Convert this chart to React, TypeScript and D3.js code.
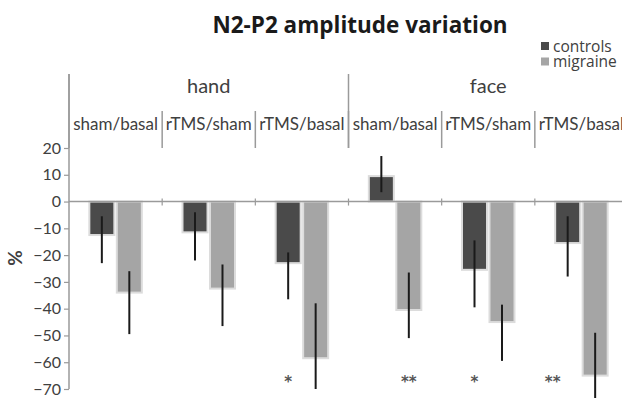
import { useEffect, useRef } from 'react'
import * as d3 from 'd3'

const W = 622
const H = 398

const groups = ['hand', 'face']
const categories = ['sham/basal', 'rTMS/sham', 'rTMS/basal', 'sham/basal', 'rTMS/sham', 'rTMS/basal']
const series = ['controls', 'migraine']

// % change
const controls = [-12.5, -11.5, -23, 9.5, -25.5, -15.5]
const migraine = [-34, -32.5, -58.5, -40.5, -45, -65]
// error bar ends (upper, lower)
const controlsErrHi = [-5.5, -4, -19, 17, -14.5, -5.5]
const controlsErrLo = [-23, -22, -36.5, 3.5, -39.5, -28]
const migraineErrHi = [-26, -23.5, -38, -26.5, -38.5, -49]
const migraineErrLo = [-49.5, -46.5, -70, -51, -59.5, -80]

const yTicks = [20, 10, 0, -10, -20, -30, -40, -50, -60, -70]

// significance marks: category index, series the mark sits under, label
const sigCat = [2, 3, 4, 5]
const sigSeries = ['controls', 'migraine', 'controls', 'controls']
const sigText = ['*', '**', '*', '**']

const COLORS: Record<string, string> = { controls: '#4a4a4a', migraine: '#a5a5a5' }
const FONT = 'Lato, "Open Sans", sans-serif'
const TEXT = '#404040'
const LINE = '#9a9a9a'

export default function App() {
  const ref = useRef<SVGSVGElement>(null)

  useEffect(() => {
    if (!ref.current) return
    const svg = d3.select(ref.current)
    svg.selectAll('*').remove()

    const left = 69
    const x = d3.scaleBand<number>().domain(d3.range(categories.length)).range([left, 628])
    const xs = d3.scaleBand<string>().domain(series).range([0, x.bandwidth()]).paddingInner(0.09).paddingOuter(0.74)
    const y = d3.scaleLinear().domain([-70, 20]).range([389, 148])
    const gx = d3.scaleBand<number>().domain(d3.range(groups.length)).range([left, 628])

    const values: Record<string, number[]> = { controls, migraine }
    const errHi: Record<string, number[]> = { controls: controlsErrHi, migraine: migraineErrHi }
    const errLo: Record<string, number[]> = { controls: controlsErrLo, migraine: migraineErrLo }

    // title
    svg.append('text')
      .attr('x', 360).attr('y', 33)
      .attr('text-anchor', 'middle')
      .attr('font-family', '"Open Sans", sans-serif').attr('font-weight', 700).attr('font-size', 22.5)
      .attr('fill', '#1a1a1a')
      .text('N2-P2 amplitude variation')

    // legend
    const lg = svg.append('g').attr('transform', 'translate(541,42)')
    series.forEach((s, i) => {
      lg.append('rect').attr('x', 0).attr('y', i * 15.5).attr('width', 8).attr('height', 8).attr('fill', COLORS[s])
      lg.append('text').attr('x', 12).attr('y', i * 15.5 + 9.5)
        .attr('font-family', '"Open Sans", sans-serif').attr('font-size', 15.5).attr('fill', TEXT).text(s)
    })

    // y axis
    const yAxis = svg.append('g').attr('transform', `translate(${left},0)`)
      .call(d3.axisLeft(y).tickValues(yTicks).tickSize(5).tickPadding(3).tickFormat(d3.format('d')))
    yAxis.select('.domain').remove()
    yAxis.selectAll('line').attr('stroke', LINE).attr('stroke-width', 1.2)
    yAxis.selectAll('text').attr('font-family', FONT).attr('font-size', 16).attr('fill', TEXT)
    svg.append('line').attr('x1', left).attr('x2', left).attr('y1', 74).attr('y2', y(-70))
      .attr('stroke', LINE).attr('stroke-width', 1.5)

    svg.append('text')
      .attr('transform', `translate(22,258) rotate(-90)`)
      .attr('text-anchor', 'middle')
      .attr('font-family', FONT).attr('font-weight', 700).attr('font-size', 19)
      .attr('fill', TEXT)
      .text('%')

    // header: group labels, category labels, separators
    groups.forEach((g, i) => {
      svg.append('text')
        .attr('x', (gx(i) ?? 0) + gx.bandwidth() / 2).attr('y', 93)
        .attr('text-anchor', 'middle')
        .attr('font-family', FONT).attr('font-size', 20).attr('fill', TEXT)
        .text(g)
      svg.append('line')
        .attr('x1', gx(i) ?? 0).attr('x2', gx(i) ?? 0).attr('y1', 74).attr('y2', 148)
        .attr('stroke', LINE).attr('stroke-width', 1.5)
    })
    categories.forEach((c, i) => {
      const cx = (x(i) ?? 0) + x.bandwidth() / 2
      svg.append('text')
        .attr('x', cx).attr('y', 130)
        .attr('text-anchor', 'middle')
        .attr('font-family', FONT).attr('font-size', 17).attr('fill', TEXT)
        .text(c)
      if (i > 0) {
        svg.append('line')
          .attr('x1', x(i) ?? 0).attr('x2', x(i) ?? 0).attr('y1', 111).attr('y2', 148)
          .attr('stroke', LINE).attr('stroke-width', 1.5)
        svg.append('line')
          .attr('x1', x(i) ?? 0).attr('x2', x(i) ?? 0).attr('y1', y(0) - 3).attr('y2', y(0) + 4)
          .attr('stroke', LINE).attr('stroke-width', 1.2)
      }
    })

    // bars
    categories.forEach((_, i) => {
      series.forEach(s => {
        const v = values[s][i]
        const bx = (x(i) ?? 0) + (xs(s) ?? 0)
        svg.append('rect')
          .attr('x', bx).attr('width', xs.bandwidth())
          .attr('y', Math.min(y(v), y(0))).attr('height', Math.abs(y(v) - y(0)))
          .attr('fill', COLORS[s])
          .attr('stroke', '#dcdcdc').attr('stroke-width', 2)
      })
    })

    // zero line on top of the bar outlines
    svg.append('line').attr('x1', left).attr('x2', W).attr('y1', y(0)).attr('y2', y(0))
      .attr('stroke', LINE).attr('stroke-width', 1.5)

    // error bars
    categories.forEach((_, i) => {
      series.forEach(s => {
        const cx = (x(i) ?? 0) + (xs(s) ?? 0) + xs.bandwidth() / 2
        svg.append('line')
          .attr('x1', cx).attr('x2', cx)
          .attr('y1', y(errHi[s][i])).attr('y2', y(errLo[s][i]))
          .attr('stroke', '#1a1a1a').attr('stroke-width', 2)
      })
    })

    // significance marks
    sigCat.forEach((c, k) => {
      const s = sigSeries[k]
      const dx = k === 3 ? -15 : 0
      svg.append('text')
        .attr('x', (x(c) ?? 0) + (xs(s) ?? 0) + xs.bandwidth() / 2 + dx).attr('y', 387)
        .attr('text-anchor', 'middle')
        .attr('font-family', '"DejaVu Sans", sans-serif').attr('font-weight', 700).attr('font-size', 15)
        .attr('fill', '#555')
        .text(sigText[k])
    })
  }, [])

  return (
    <div style={{ position: 'absolute', left: 0, top: 0, width: W, height: H, background: '#fff' }}>
      <svg ref={ref} width={W} height={H} />
    </div>
  )
}
